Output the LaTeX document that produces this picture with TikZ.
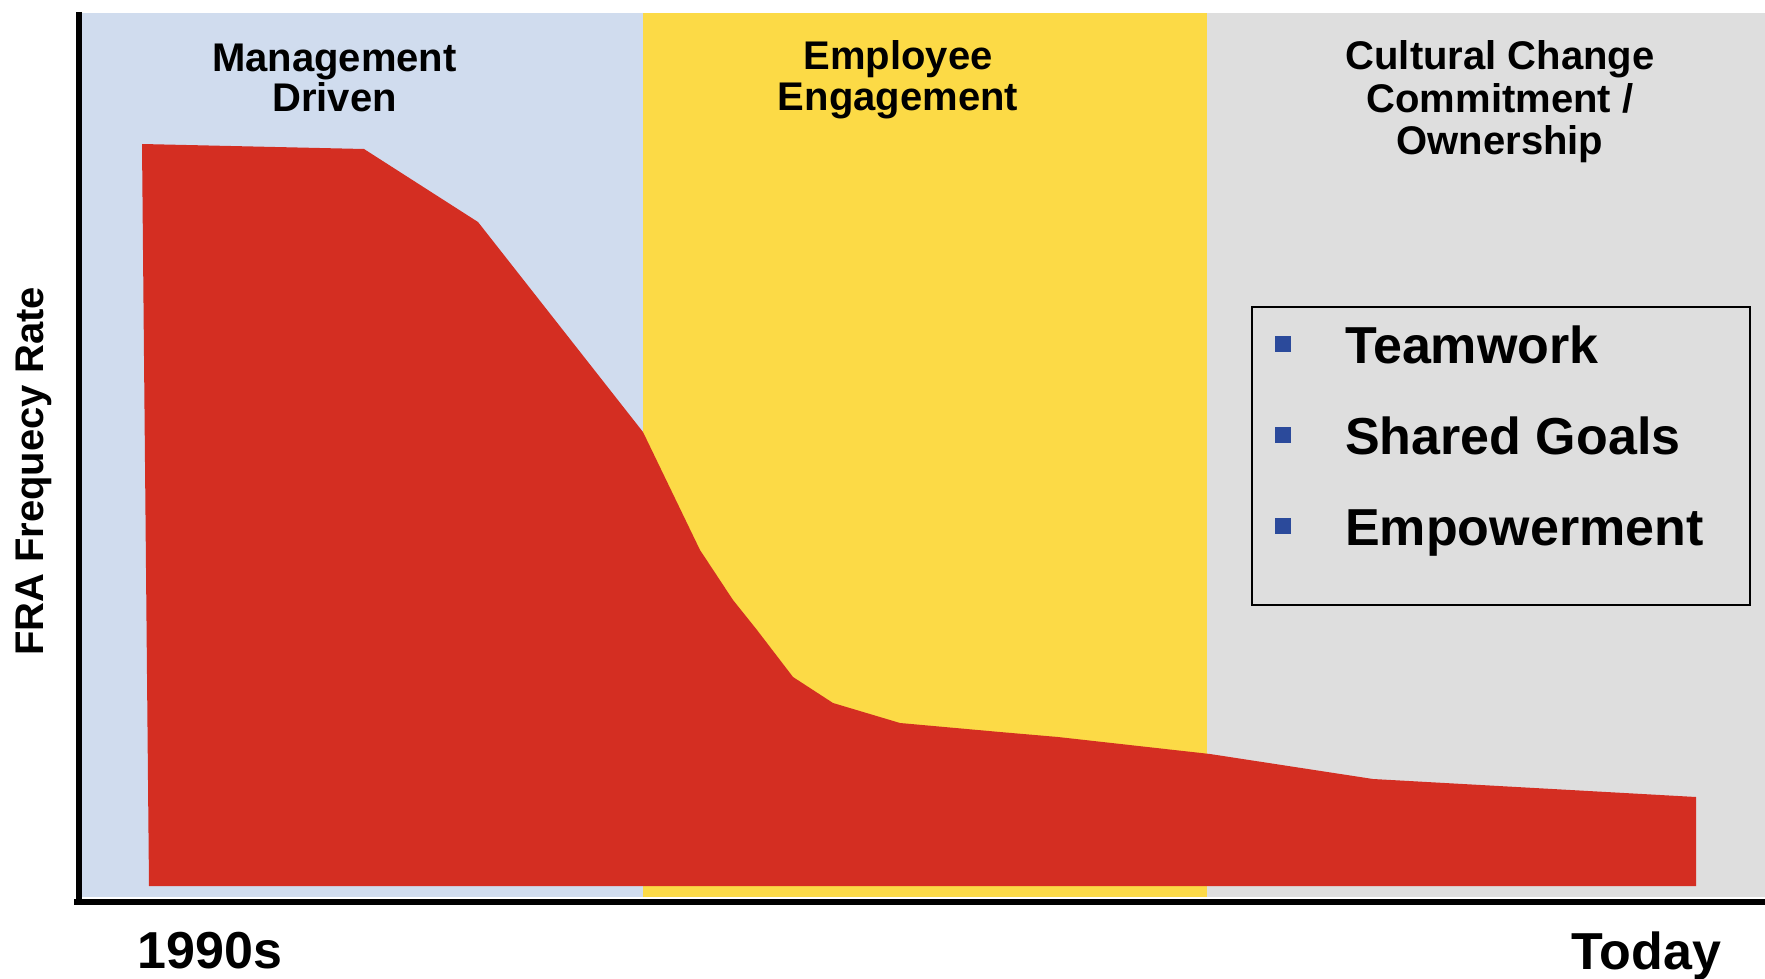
\documentclass[tikz,border=0pt]{standalone}
\usepackage{fontspec}
\setmainfont{Liberation Sans}
\definecolor{bgblue}{RGB}{208,220,238}
\definecolor{bgyellow}{RGB}{252,218,70}
\definecolor{bggrey}{RGB}{222,222,222}
\definecolor{redarea}{RGB}{212,46,34}
\definecolor{bulletblue}{RGB}{43,74,155}
\tikzset{
  phase/.style={anchor=base, inner sep=0pt, font=\fontsize{40}{40}\selectfont\bfseries},
  axislbl/.style={anchor=base, inner sep=0pt, font=\fontsize{52}{52}\selectfont\bfseries},
  legtext/.style={anchor=base west, inner sep=0pt, font=\fontsize{52}{52}\selectfont\bfseries},
  bulletsq/.style={fill=bulletblue, draw=none, minimum size=16pt, inner sep=0pt},
  axisline/.style={line width=5.5pt, black},
}
\begin{document}
\begin{tikzpicture}[x=1pt, y=-1pt]
\useasboundingbox (0,0) rectangle (1765,979);
% background bands
\fill[bgblue] (78,13) rectangle (643,897);
\fill[bgyellow] (643,13) rectangle (1207,897);
\fill[bggrey] (1207,13) rectangle (1765,897);
% red area
\fill[redarea] (142,144) -- (364,149) -- (478,222) -- (643,432) -- (700,550)
  -- (733,600) -- (757,630) -- (793,677) -- (833,703) -- (900,723) -- (1000,732)
  -- (1058,737) -- (1210,754) -- (1373,779) -- (1696,797) -- (1696,886) -- (149,886) -- cycle;
% axes
\coordinate (otop) at (79,12);
\coordinate (orig) at (79,902);
\coordinate (xend) at (1765,902);
\draw[axisline] (otop) -- (79,904.75);
\draw[axisline] (74,902) -- (xend);
% phase labels
\node[phase] (m1) at (334.5,72) {Management};
\node[phase] (m2) at (334.5,112) {Driven};
\node[phase] (e1) at (898,70) {Employee};
\node[phase] (e2) at (898,111) {Engagement};
\node[phase] (c1) at (1500,70) {Cultural Change};
\node[phase] (c2) at (1500,113) {Commitment /};
\node[phase] (c3) at (1500,155) {Ownership};
% y-axis label
\node[phase, rotate=90] (ylab) at (43,471.5) {FRA Frequecy Rate};
% x-axis labels
\node[axislbl] (start) at (210,968) {1990s};
\node[axislbl] (today) at (1646.5,969) {Today};
% legend
\node[draw=black, line width=2pt, fill=none, minimum width=498pt, minimum height=298pt, inner sep=0pt, anchor=north west] (legend) at (1251,306) {};
\node[bulletsq] (b1) at (1283,344) {};
\node[bulletsq] (b2) at (1283,435) {};
\node[bulletsq] (b3) at (1283,526) {};
\node[legtext] (t1) at (1345,363) {Teamwork};
\node[legtext] (t2) at (1345,454) {Shared Goals};
\node[legtext] (t3) at (1345,545) {Empowerment};
\end{tikzpicture}
\end{document}
